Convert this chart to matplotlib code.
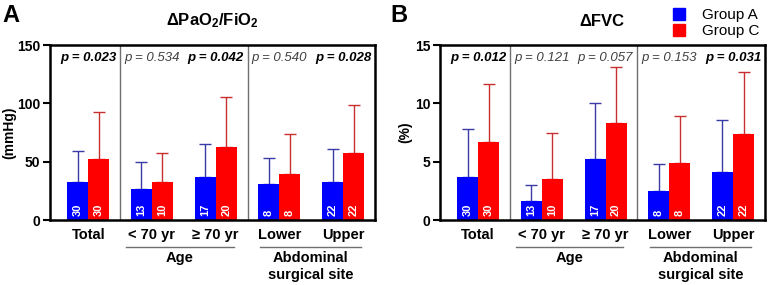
import matplotlib
matplotlib.use("Agg")
import matplotlib.pyplot as plt
from matplotlib.lines import Line2D
import numpy as np

plt.rcParams['font.family'] = ['Liberation Sans', 'DejaVu Sans']
plt.rcParams['mathtext.fontset'] = 'custom'
plt.rcParams['mathtext.bf'] = 'Liberation Sans:bold'
plt.rcParams['mathtext.rm'] = 'Liberation Sans:bold'
plt.rcParams['mathtext.default'] = 'bf'

categories = ["Total", "< 70 yr", "\u2265 70 yr", "Lower", "Upper"]
group_labels = ["Age", "Abdominal\nsurgical site"]
series_names = ["Group A", "Group C"]

n_a = [30, 13, 17, 8, 22]
n_c = [30, 10, 20, 8, 22]

# Panel A: delta PaO2/FiO2 (mmHg)
pao2_a_mean = [32.3, 26.8, 36.5, 31.0, 33.0]
pao2_a_sd = [26.5, 22.8, 29.0, 21.8, 28.3]
pao2_c_mean = [52.5, 32.8, 62.2, 39.5, 57.2]
pao2_c_sd = [40.5, 24.5, 43.6, 34.5, 41.8]
pao2_p = ["0.023", "0.534", "0.042", "0.540", "0.028"]
pao2_sig = [True, False, True, False, True]

# Panel B: delta FVC (%)
fvc_a_mean = [3.65, 1.64, 5.26, 2.5, 4.1]
fvc_a_sd = [4.15, 1.36, 4.74, 2.27, 4.5]
fvc_c_mean = [6.7, 3.5, 8.3, 4.9, 7.35]
fvc_c_sd = [5.0, 3.95, 4.8, 4.0, 5.35]
fvc_p = ["0.012", "0.121", "0.057", "0.153", "0.031"]
fvc_sig = [True, False, False, False, True]

BLUE = "#0000ff"
RED = "#ff0000"
BLUE_ERR = "#3a3aa8"
RED_ERR = "#c83030"

fig = plt.figure(figsize=(7.69, 2.85), dpi=100)

def panel(rect, a_mean, a_sd, c_mean, c_sd, pvals, sig, ymax, yticks, ylabel, ylabel_x,
          title, letter, letter_x):
    ax = fig.add_axes(rect)
    x = np.arange(len(categories))
    w = 0.33
    ax.errorbar(x - w / 2, a_mean, yerr=[np.zeros(len(x)), a_sd], fmt='none',
                ecolor=BLUE_ERR, elinewidth=1, capsize=4, capthick=1, zorder=1)
    ax.errorbar(x + w / 2, c_mean, yerr=[np.zeros(len(x)), c_sd], fmt='none',
                ecolor=RED_ERR, elinewidth=1, capsize=4, capthick=1, zorder=1)
    ax.bar(x - w / 2, a_mean, w, color=BLUE, zorder=2, label=series_names[0])
    ax.bar(x + w / 2, c_mean, w, color=RED, zorder=2, label=series_names[1])
    for i in range(len(x)):
        ax.text(x[i] - w / 2, ymax * 0.025, str(n_a[i]), rotation=90, color='white',
                fontsize=8, fontweight='bold', ha='center', va='bottom', zorder=3)
        ax.text(x[i] + w / 2, ymax * 0.025, str(n_c[i]), rotation=90, color='white',
                fontsize=8, fontweight='bold', ha='center', va='bottom', zorder=3)
        if sig[i]:
            ax.text(x[i], ymax * 0.925, "p = " + pvals[i], fontsize=9.5, fontstyle='italic',
                    fontweight='bold', ha='center', va='center', color='black')
        else:
            ax.text(x[i], ymax * 0.925, "p = " + pvals[i], fontsize=9.5, fontstyle='italic',
                    fontweight='normal', ha='center', va='center', color='#404040')
    for d in [0.5, 2.5]:
        ax.axvline(d, color='#707070', lw=1, zorder=0)
    ax.set_xlim(-0.6, 4.5)
    ax.set_ylim(0, ymax)
    ax.set_yticks(yticks)
    ax.set_yticklabels([str(t) for t in yticks], fontweight='bold', fontsize=10)
    ax.set_xticks(x)
    ax.set_xticklabels(categories, fontweight='bold', fontsize=10.5)
    ax.tick_params(axis='x', length=0, pad=6)
    ax.tick_params(axis='y', length=5, width=1.5, direction='out', pad=2)
    for s in ax.spines.values():
        s.set_linewidth(1.8)
        s.set_color('black')
    ax.set_ylabel(ylabel, fontweight='bold', fontsize=10)
    ax.yaxis.set_label_coords(ylabel_x, 0.5)
    ax.set_title(title, fontweight='bold', fontsize=12, pad=14)
    trans = ax.get_xaxis_transform()
    ax.add_line(Line2D([0.6, 2.28], [-0.153, -0.153], transform=trans, color='#707070',
                       lw=1, clip_on=False))
    ax.add_line(Line2D([2.7, 4.28], [-0.153, -0.153], transform=trans, color='#707070',
                       lw=1, clip_on=False))
    ax.text(1.44, -0.175, group_labels[0], transform=trans, ha='center', va='top',
            fontsize=10.5, fontweight='bold')
    ax.text(3.49, -0.175, group_labels[1], transform=trans, ha='center', va='top',
            fontsize=10.5, fontweight='bold', linespacing=1.3)
    fig.text(letter_x, 0.945, letter, fontsize=17, fontweight='bold', ha='left', va='center')
    return ax

axA = panel([0.065, 0.228, 0.4226, 0.614], pao2_a_mean, pao2_a_sd, pao2_c_mean, pao2_c_sd,
            pao2_p, pao2_sig, 150, [0, 50, 100, 150], "(mmHg)", -0.105,
            "\u0394PaO$_2$/FiO$_2$", "A", 0.003)
axB = panel([0.572, 0.228, 0.4226, 0.614], fvc_a_mean, fvc_a_sd, fvc_c_mean, fvc_c_sd,
            fvc_p, fvc_sig, 15, [0, 5, 10, 15], "(%)", -0.085,
            "\u0394FVC", "B", 0.508)

handles = [Line2D([], [], marker='s', linestyle='none', markersize=8, color=BLUE),
           Line2D([], [], marker='s', linestyle='none', markersize=8, color=RED)]
fig.legend(handles, series_names, loc='upper right', bbox_to_anchor=(1.005, 1.02),
           frameon=False, fontsize=11, handletextpad=0.9, labelspacing=0.15,
           handlelength=1.2)

fig.savefig("out.png", dpi=100)
